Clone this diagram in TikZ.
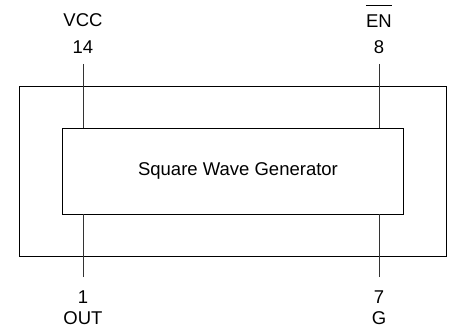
\documentclass[tikz,border=0pt]{standalone}
\usepackage{fontspec}
\setmainfont{Liberation Sans}
\begin{document}
\begin{tikzpicture}[x=1pt,y=-1pt,
  box/.style={draw=black,line width=0.9pt},
  pinline/.style={draw=black!80,line width=0.9pt},
  lbl/.style={font=\fontsize{18.5}{20}\selectfont,inner sep=0pt,anchor=center}]
\useasboundingbox (0,0) rectangle (450,329);
\draw[box] (19,86) rectangle (446,256);
\node[box,minimum width=341pt,minimum height=86pt,inner sep=0pt] (core) at (232.5,171) {};
\node[lbl] (title) at (238,171) {Square Wave Generator};
\coordinate (p14) at (83,64);
\coordinate (p8) at (379,64);
\coordinate (p1) at (83,277);
\coordinate (p7) at (379,277);
\draw[pinline] (p14) -- (p14 |- core.north);
\draw[pinline] (p8) -- (p8 |- core.north);
\draw[pinline] (p1) -- (p1 |- core.south);
\draw[pinline] (p7) -- (p7 |- core.south);
\node[lbl] (vcc) at (83,20) {VCC};
\node[lbl] (n14) at (83,47) {14};
\node[lbl] (en) at (379,21) {EN};
\coordinate (ovl) at (0,5);
\draw[line width=0.8pt] (en.west |- ovl) -- (en.east |- ovl);
\node[lbl] (n8) at (379,47) {8};
\node[lbl] (n1) at (83,297) {1};
\node[lbl] (out) at (83,318) {OUT};
\node[lbl] (n7) at (379,297) {7};
\node[lbl] (g) at (379,318) {G};
\end{tikzpicture}
\end{document}
